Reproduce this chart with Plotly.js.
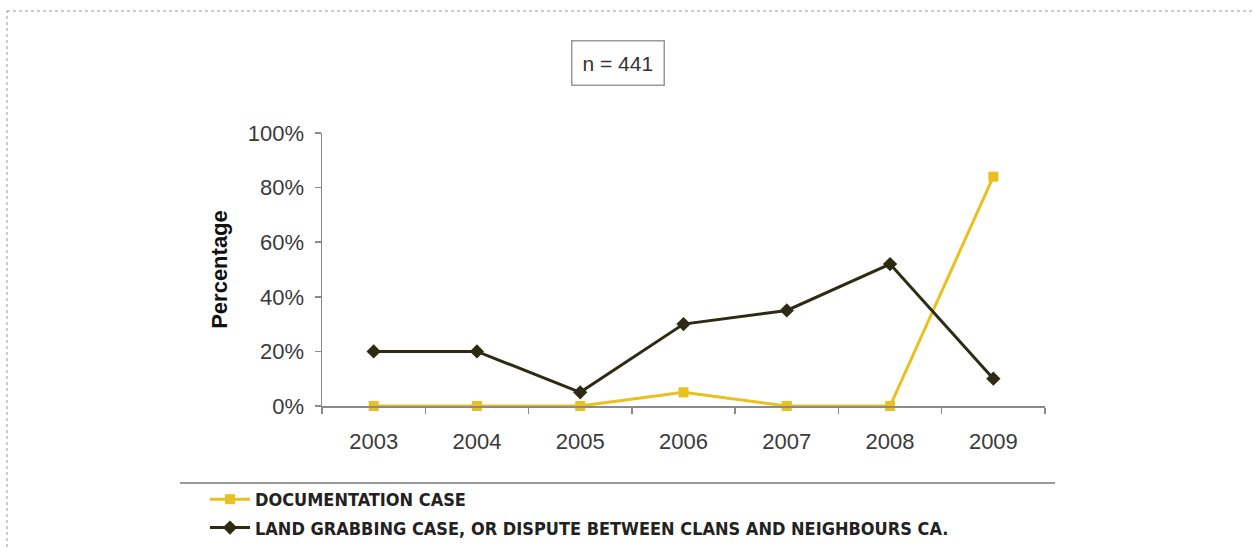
<!DOCTYPE html>
<html>
<head>
<meta charset="utf-8">
<script src="https://cdn.plot.ly/plotly-3.0.1.min.js"></script>
<style>
html,body{margin:0;padding:0;background:#fff;}
#chart{width:1253px;height:548px;}
</style>
</head>
<body>
<div id="chart"></div>
<script>
const years = ['2003','2004','2005','2006','2007','2008','2009'];
const documentationCase = [0, 0, 0, 5, 0, 0, 84];
const landGrabbingCase = [20, 20, 5, 30, 35, 52, 10];
const seriesNames = ['DOCUMENTATION CASE', 'LAND GRABBING CASE, OR DISPUTE BETWEEN CLANS AND NEIGHBOURS CA.'];
const annotationText = 'n = 441';
const yTitle = 'Percentage';

const W = 1253, H = 548;
const L = 322, R = 1045, T = 133, B = 406;
const px = x => (x - L) / (R - L);
const py = y => (B - y) / (B - T);

const traces = [
  {
    x: years, y: documentationCase, name: seriesNames[0], type: 'scatter', mode: 'lines+markers',
    line: {color: '#E8C020', width: 3}, marker: {symbol: 'square', size: 10, color: '#E8C020'},
    cliponaxis: false, legendgroup: 'a'
  },
  {
    x: years, y: landGrabbingCase, name: seriesNames[1], type: 'scatter', mode: 'lines+markers',
    line: {color: '#2E2B14', width: 3}, marker: {symbol: 'diamond', size: 11, color: '#2E2B14'},
    cliponaxis: false, legendgroup: 'b'
  }
];

const layout = {
  width: W, height: H,
  margin: {l: L, r: W - R, t: T, b: H - B, pad: 0, autoexpand: false},
  paper_bgcolor: '#fff', plot_bgcolor: '#fff',
  font: {family: 'Liberation Sans, Arial, sans-serif', color: '#444'},
  showlegend: true,
  legend: {
    x: px(205), y: py(481), xanchor: 'left', yanchor: 'top',
    orientation: 'v', traceorder: 'grouped', tracegroupgap: 2,
    font: {family: 'Liberation Sans Narrow, Arial Narrow, DejaVu Sans Condensed, sans-serif', size: 18, color: '#222', weight: 'bold'},
    bgcolor: 'rgba(0,0,0,0)', itemwidth: 40
  },
  xaxis: {
    type: 'category', range: [-0.5, 6.5], automargin: false,
    showline: true, linecolor: '#8a8a8a', linewidth: 1.5,
    ticks: 'outside', tickson: 'boundaries', ticklen: 6, tickcolor: '#8a8a8a', tickwidth: 1.5,
    showgrid: false, zeroline: false,
    tickfont: {size: 22, color: '#3a3a3a'}, ticklabelstandoff: 15
  },
  yaxis: {
    range: [0, 100], dtick: 20, ticksuffix: '%', automargin: false,
    showline: true, linecolor: '#8a8a8a', linewidth: 1.5,
    ticks: 'outside', ticklen: 6, tickcolor: '#8a8a8a', tickwidth: 1.5,
    showgrid: false, zeroline: false,
    tickfont: {size: 22, color: '#3a3a3a'}, ticklabelstandoff: 6,
    title: {text: yTitle, font: {size: 22, color: '#111', weight: 'bold'}, standoff: 14}
  },
  shapes: [
    {type: 'rect', xref: 'paper', yref: 'paper', x0: px(7), x1: px(1300), y0: py(11), y1: py(600),
     line: {color: '#999', width: 1, dash: 'dot'}},
    {type: 'line', xref: 'paper', yref: 'paper', x0: px(180), x1: px(1055), y0: py(483), y1: py(483),
     line: {color: '#9a9a9a', width: 2}}
  ],
  annotations: [
    {text: annotationText, xref: 'paper', yref: 'paper', x: px(618), y: py(63), xanchor: 'center', yanchor: 'middle',
     showarrow: false, font: {size: 21, color: '#333'}, bordercolor: '#999', borderwidth: 1.5, borderpad: 10, bgcolor: '#fff'}
  ]
};

Plotly.newPlot('chart', traces, layout, {displayModeBar: false, staticPlot: true});
</script>
</body>
</html>
